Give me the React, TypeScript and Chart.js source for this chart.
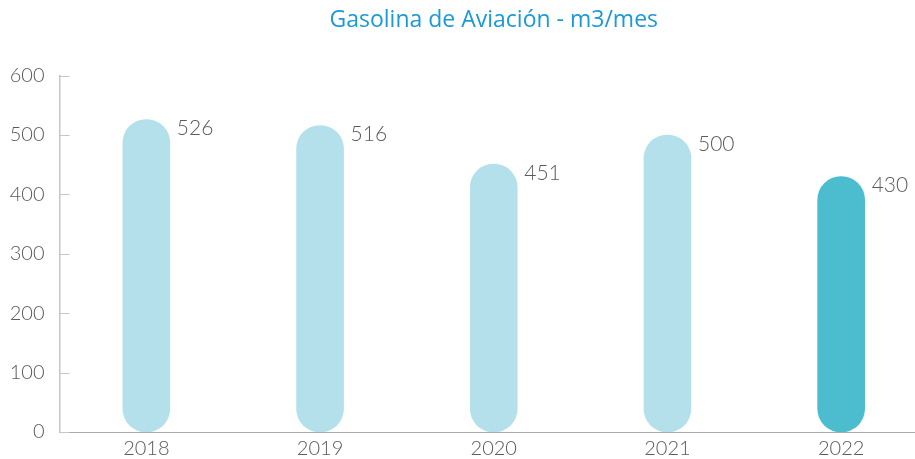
import React, { useEffect, useRef } from "react";
import { Chart, registerables } from "chart.js";

Chart.register(...registerables);

const categories = ["2018", "2019", "2020", "2021", "2022"];
const values = [526, 516, 451, 500, 430];
const yTicks = [0, 100, 200, 300, 400, 500, 600];
const titleText = "Gasolina de Aviación - m3/mes";

const LIGHT = "#b4e0ec";
const DARK = "#4bbdcf";
const TEXT = "#5a5a5a";

const innerTicks = {
  id: "innerTicks",
  afterDraw(chart: any) {
    const { ctx, chartArea, scales } = chart;
    const y = scales.y;
    ctx.save();
    ctx.strokeStyle = "#c6c6c6";
    ctx.lineWidth = 1;
    y.ticks.forEach((t: any) => {
      const py = Math.round(y.getPixelForValue(t.value)) + 0.5;
      ctx.beginPath();
      ctx.moveTo(chartArea.left, py);
      ctx.lineTo(chartArea.left + 10, py);
      ctx.stroke();
    });
    ctx.restore();
  },
};

const valueLabels = {
  id: "valueLabels",
  afterDatasetsDraw(chart: any) {
    const { ctx } = chart;
    const meta = chart.getDatasetMeta(0);
    ctx.save();
    ctx.font = "300 21px Lato";
    ctx.fillStyle = TEXT;
    ctx.textAlign = "left";
    ctx.textBaseline = "middle";
    meta.data.forEach((bar: any, i: number) => {
      ctx.fillText(String(values[i]), bar.x + bar.width / 2 + 7, bar.y + 9);
    });
    ctx.restore();
  },
};

export default function App() {
  const ref = useRef<HTMLCanvasElement>(null);
  useEffect(() => {
    if (!ref.current) return;
    const chart = new Chart(ref.current, {
      type: "bar",
      data: {
        labels: categories,
        datasets: [
          {
            data: values,
            backgroundColor: values.map((_, i) => (i === values.length - 1 ? DARK : LIGHT)),
            barThickness: 47,
            borderRadius: 24,
            borderSkipped: false,
          },
        ],
      },
      options: {
        responsive: false,
        animation: false,
        layout: { padding: { left: 0, right: 2, top: 0, bottom: 0 } },
        plugins: {
          legend: { display: false },
          tooltip: { enabled: false },
          title: {
            display: true,
            text: titleText,
            fullSize: false,
            color: "#1a9ad6",
            font: { family: "Open Sans", size: 23, weight: "400" },
            padding: { top: 7, bottom: 41 },
          },
        },
        scales: {
          x: {
            grid: { display: false, drawTicks: false },
            border: { display: true, color: "#aaaaaa", width: 1 },
            ticks: { color: TEXT, font: { family: "Lato", size: 20, weight: "300" }, padding: 5 },
            afterFit(scale: any) {
              scale.height = 27;
            },
          },
          y: {
            min: 0,
            max: 600,
            afterBuildTicks(scale: any) {
              scale.ticks = yTicks.map((v) => ({ value: v }));
            },
            grid: { display: false, drawTicks: false },
            border: { display: true, color: "#c6c6c6", width: 1.5 },
            ticks: { color: TEXT, font: { family: "Lato", size: 20, weight: "300" }, padding: 15 },
            afterFit(scale: any) {
              scale.width = 59.5;
            },
          },
        },
      },
      plugins: [innerTicks, valueLabels],
    });
    return () => chart.destroy();
  }, []);
  return (
    <div style={{ position: "fixed", left: 0, top: 0, width: 915, height: 459, overflow: "hidden", background: "#fff" }}>
      <canvas ref={ref} width={930} height={459} style={{ display: "block" }} />
    </div>
  );
}
